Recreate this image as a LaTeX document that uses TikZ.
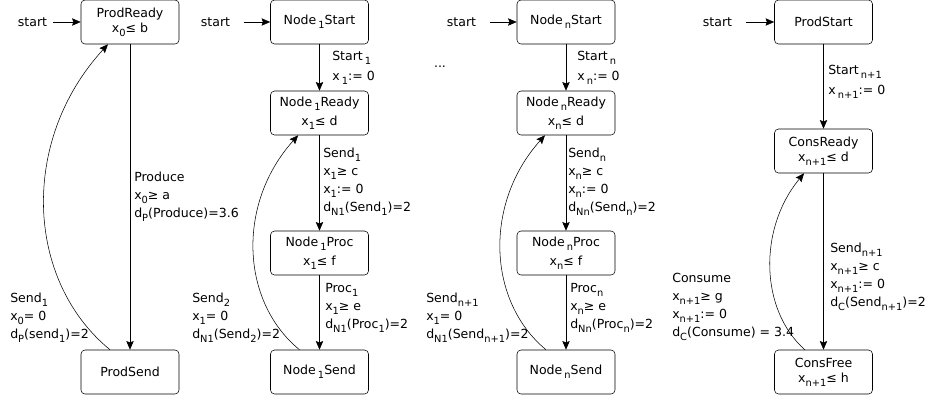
\documentclass[tikz,border=0pt]{standalone}
\usepackage{fontspec}
\setmainfont{DejaVu Sans}
\usetikzlibrary{arrows.meta}
\newcommand{\lo}[1]{\raisebox{-2.8pt}{\fontsize{7.4}{8}\selectfont #1}}

\begin{document}
\begin{tikzpicture}[x=0.75pt,y=-0.75pt,
  font=\fontsize{9.4}{11.25}\selectfont,
  state/.style={draw,rounded corners=3pt,minimum width=73.5pt,minimum height=33pt,align=center,inner sep=1pt},
  lbl/.style={anchor=west,align=left,inner sep=0pt,font=\fontsize{9.4}{13.5}\selectfont},
  init/.style={inner ysep=2pt,inner xsep=10pt},
  >={Stealth[length=6.5pt,width=5.5pt,inset=1pt]}]
\useasboundingbox (0,0) rectangle (932,401);

\begin{scope}[shift={(130,0)},local bounding box=prod]
  \node[init,inner xsep=4.5pt] (S0) at (-97.5,22) {start};
  \node[state] (ProdReady) at (0,22) {ProdReady\\x\lo{0}≤ b};
  \node[state] (ProdSend) at (0,372) {ProdSend};

  \node[lbl] (Produce) at (4,197) {Produce\\x\lo{0}≥ a\\d\lo{P}(Produce)=3.6};
  \node[lbl] (Send0) at (-120,318) {Send\lo{1}\\x\lo{0}= 0\\d\lo{P}(send\lo{1})=2};

  \draw[->] (S0) -- (ProdReady);
  \draw[->] (ProdReady) -- (ProdSend);
  \draw[->] ([xshift=-15pt]ProdSend.north) .. controls (-105,280) and (-110,140) .. ([xshift=-16.5pt]ProdReady.south);
\end{scope}

\begin{scope}[shift={(319.5,0)},local bounding box=node1]
  \node[init] (S1) at (-104,22) {start};
  \node[state] (N1Start) at (0,22) {Node\,\lo{1}Start};
  \node[state] (N1Ready) at (0,113) {Node\,\lo{1}Ready\\[3pt]x\lo{1}≤ d};
  \node[state] (N1Proc) at (0,253) {Node\,\lo{1}Proc\\[3pt]x\lo{1}≤ f};
  \node[state] (N1Send) at (0,372) {Node\,\lo{1}Send};

  \node[lbl] (Start1) at (12.5,68) {Start\,\lo{1}\\[1.5pt]x\,\lo{1}:= 0};
  \node[lbl] (Send1) at (3.5,182) {Send\lo{1}\\x\lo{1}≥ c\\x\lo{1}:= 0\\d\lo{N1}(Send\lo{1})=2};
  \node[lbl] (Proc1) at (5.5,308) {Proc\lo{1}\\x\lo{1}≥ e\\d\lo{N1}(Proc\lo{1})=2};
  \node[lbl] (Send2) at (-127.5,318) {Send\lo{2}\\x\lo{1}= 0\\d\lo{N1}(Send\lo{2})=2};

  \draw[->] (S1) -- (N1Start);
  \draw[->] (N1Start) -- (N1Ready);
  \draw[->] (N1Ready) -- (N1Proc);
  \draw[->] (N1Proc) -- (N1Send);
  \draw[->] ([xshift=-15pt]N1Send.north) .. controls (-79.5,301) and (-82.5,203) .. ([xshift=-16pt]N1Ready.south);
\end{scope}

\begin{scope}[shift={(566,0)},local bounding box=noden]
  \node (Dots) at (-126,67) {...};
  \node[init] (Sn) at (-104.5,22) {start};
  \node[state] (NnStart) at (0,22) {Node\,\lo{n}Start};
  \node[state] (NnReady) at (0,113) {Node\,\lo{n}Ready\\[3pt]x\lo{n}≤ d};
  \node[state] (NnProc) at (0,253) {Node\,\lo{n}Proc\\[3pt]x\lo{n}≤ f};
  \node[state] (NnSend) at (0,372) {Node\,\lo{n}Send};

  \node[lbl] (Startn) at (11,68) {Start\,\lo{n}\\[1.5pt]x\,\lo{n}:= 0};
  \node[lbl] (Sendn) at (2,182) {Send\lo{n}\\x\lo{n}≥ c\\x\lo{n}:= 0\\d\lo{Nn}(Send\lo{n})=2};
  \node[lbl] (Procn) at (4,308) {Proc\lo{n}\\x\lo{n}≥ e\\d\lo{Nn}(Proc\lo{n})=2};
  \node[lbl] (SendN1) at (-140,318) {Send\lo{n+1}\\x\lo{1}= 0\\d\lo{N1}(Send\lo{n+1})=2};

  \draw[->] (Sn) -- (NnStart);
  \draw[->] (NnStart) -- (NnReady);
  \draw[->] (NnReady) -- (NnProc);
  \draw[->] (NnProc) -- (NnSend);
  \draw[->] ([xshift=-15pt]NnSend.north) .. controls (-79,301) and (-82,203) .. ([xshift=-15.75pt]NnReady.south);
\end{scope}

\begin{scope}[shift={(823.5,0)},local bounding box=cons]
  \node[init] (Sc) at (-106,22) {start};
  \node[state] (ProdStart) at (0,22) {ProdStart};
  \node[state] (ConsReady) at (0,151) {ConsReady\\x\lo{n+1}≤ d};
  \node[state] (ConsFree) at (0,372) {ConsFree\\x\lo{n+1}≤ h};

  \node[lbl] (StartC) at (4.5,82) {Start\,\lo{n+1}\\[1.5pt]x\,\lo{n+1}:= 0};
  \node[lbl] (SendC) at (6.5,277) {Send\lo{n+1}\\x\lo{n+1}≥ c\\x\lo{n+1}:= 0\\d\lo{C}(Send\lo{n+1})=2};
  \node[lbl] (Consume) at (-151.5,307) {Consume\\x\lo{n+1}≥ g\\x\lo{n+1}:= 0\\d\lo{C}(Consume) = 3.4};

  \draw[->] (Sc) -- (ProdStart);
  \draw[->] (ProdStart) -- (ConsReady);
  \draw[->] (ConsReady) -- (ConsFree);
  \draw[->] ([xshift=-14pt]ConsFree.north) .. controls (-63.5,310) and (-65.5,229) .. ([xshift=-14.6pt]ConsReady.south);
\end{scope}

\end{tikzpicture}
\end{document}
